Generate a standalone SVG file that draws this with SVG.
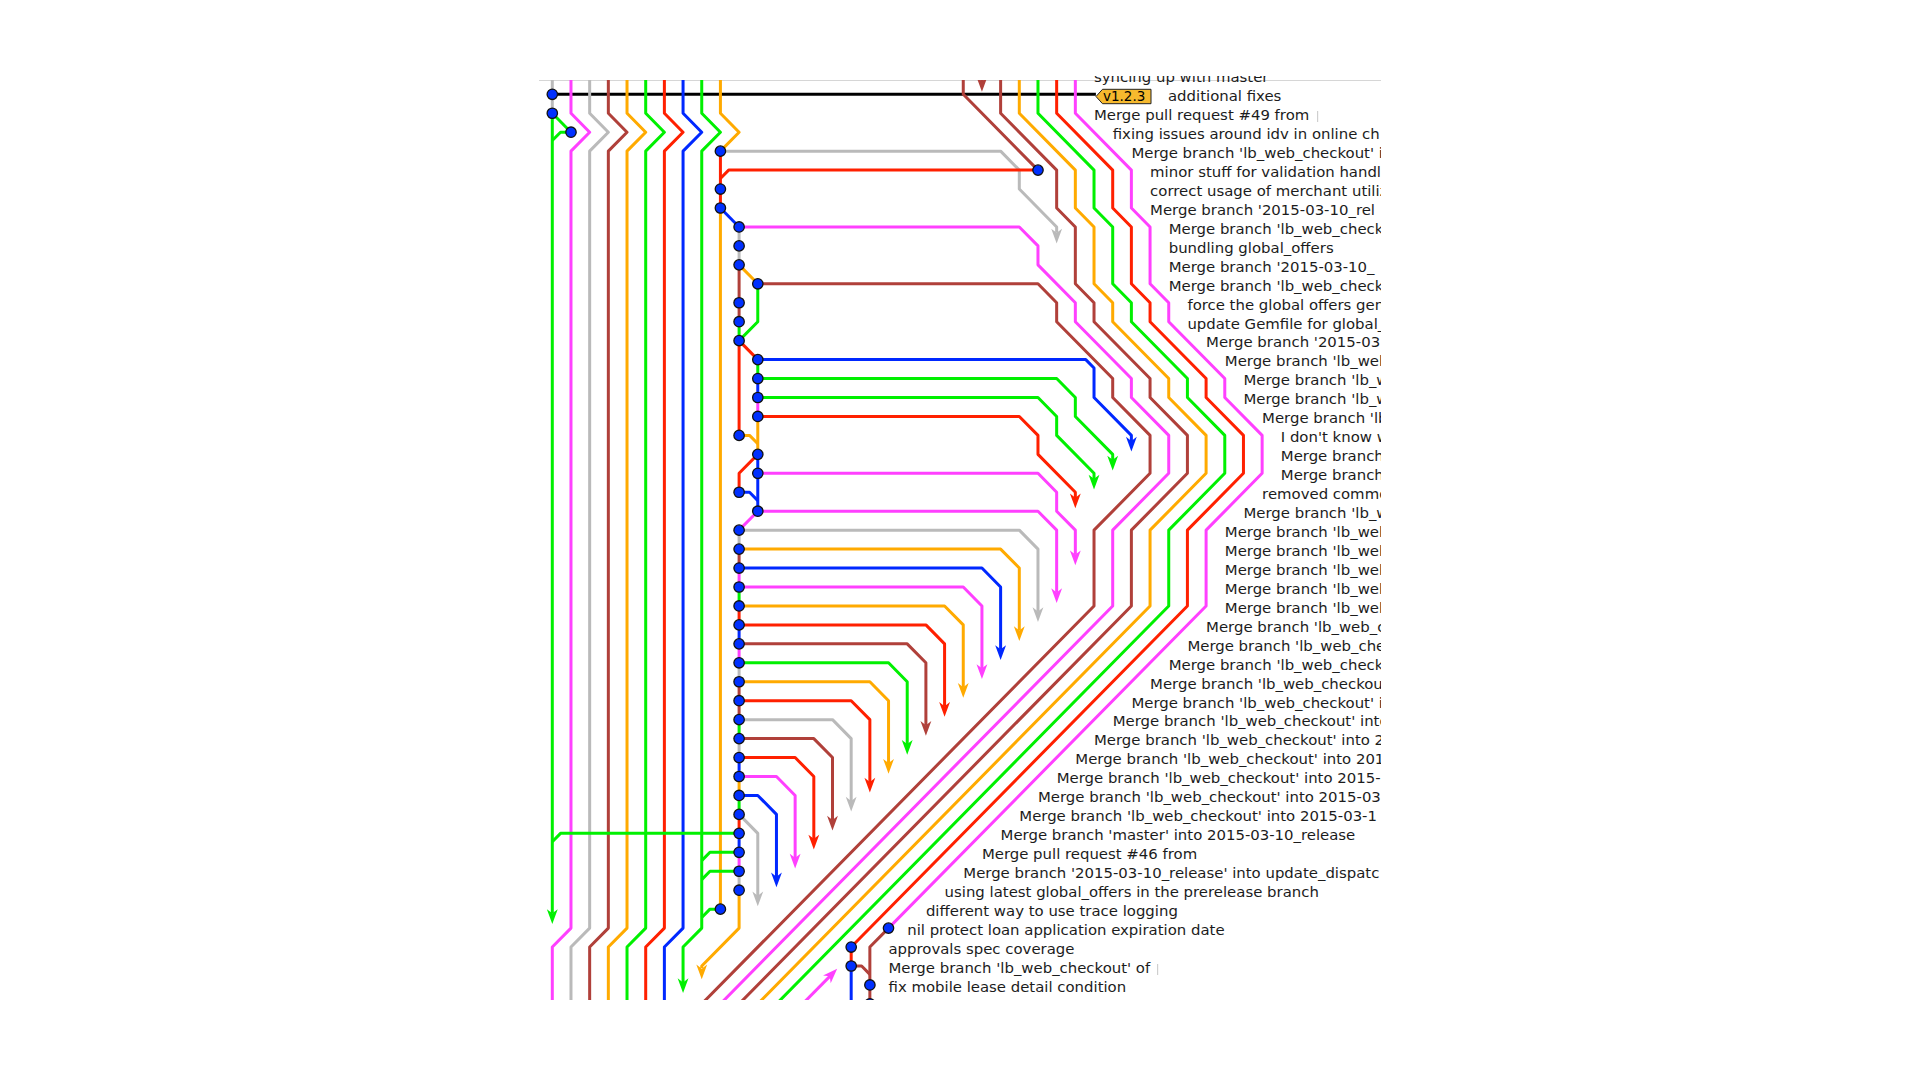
<svg xmlns="http://www.w3.org/2000/svg" xmlns:xlink="http://www.w3.org/1999/xlink" width="1920" height="1080" viewBox="0 0 1920 1080">
<style>
.ln{fill:none;stroke-width:3;vector-effect:non-scaling-stroke;stroke-linejoin:round}
.gn{stroke:#00f000}.rd{stroke:#ff2000}.bl{stroke:#0028ff}.mg{stroke:#ff40ff}.gy{stroke:#bababa}.br{stroke:#b0403a}.or{stroke:#ffaa00}.bk{stroke:#000}
.agn{fill:#00f000}.ard{fill:#ff2000}.abl{fill:#0028ff}.amg{fill:#ff40ff}.agy{fill:#bababa}.abr{fill:#b0403a}.aor{fill:#ffaa00}
.dot{fill:#0030ff;stroke:#111;stroke-width:1.3}
.t{font-family:"DejaVu Sans",sans-serif;font-size:14.9px;fill:#1c1c1c}
</style>
<defs>
<clipPath id="cg"><rect x="539" y="80" width="842" height="920"/></clipPath>
<clipPath id="ct"><rect x="539" y="76" width="842" height="924"/></clipPath>
<path id="ah" d="M0,0L-0.29,-0.78L0,-0.56L0.29,-0.78Z"/>
</defs>
<rect width="1920" height="1080" fill="#fff"/>
<line x1="539" y1="80.5" x2="1381" y2="80.5" stroke="#d6d6d6" stroke-width="1"/>
<g id="connectors" clip-path="url(#cg)">
<g transform="matrix(18.68 0 0 18.95 552.3 94.3)">
<path class="ln bk" d="M0,0H29.1"/>
<path class="ln gy" d="M0,-1.5V1"/>
<path class="ln gn" d="M0,1V43.2"/>
<path class="ln gn" d="M0,1L1,2"/>
<path class="ln gn" d="M1,2H0.44L0,2.44"/>
<path class="ln mg" d="M1,-1.5V1L2,2L1,3V44L0,45V49.5"/>
<path class="ln gy" d="M2,-1.5V1L3,2L2,3V44L1,45V49.5"/>
<path class="ln br" d="M3,-1.5V1L4,2L3,3V44L2,45V49.5"/>
<path class="ln or" d="M4,-1.5V1L5,2L4,3V44L3,45V49.5"/>
<path class="ln gn" d="M5,-1.5V1L6,2L5,3V44L4,45V49.5"/>
<path class="ln rd" d="M6,-1.5V1L7,2L6,3V44L5,45V49.5"/>
<path class="ln bl" d="M7,-1.5V1L8,2L7,3V44L6,45V49.5"/>
<path class="ln gn" d="M8,-1.5V1L9,2L8,3V44L7,45V46.9"/>
<path class="ln or" d="M9,-1.5V1L10,2L9,3"/>
<path class="ln gy" d="M9,3H24L25,4V5L27,7V7.3"/>
<path class="ln rd" d="M9,3V6"/>
<path class="ln rd" d="M26,4H9.44L9,4.44"/>
<path class="ln br" d="M22,-1.5V0L26,4"/>
<path class="ln br" d="M23,-1.5V-0.6"/>
<path class="ln bl" d="M9,6L10,7"/>
<path class="ln or" d="M9,6V43"/>
<path class="ln gy" d="M10,7V9"/>
<path class="ln or" d="M10,9L11,10"/>
<path class="ln br" d="M10,9V12"/>
<path class="ln gn" d="M11,10V12L10,13"/>
<path class="ln gn" d="M10,12V13"/>
<path class="ln rd" d="M10,13L11,14"/>
<path class="ln rd" d="M10,13V18"/>
<path class="ln gn" d="M11,14V15"/>
<path class="ln bl" d="M11,15V16"/>
<path class="ln mg" d="M11,16V17"/>
<path class="ln or" d="M11,17V19"/>
<path class="ln or" d="M10,18H10.56L11,18.44"/>
<path class="ln bl" d="M11,19V22"/>
<path class="ln rd" d="M11,19L10,20V21"/>
<path class="ln bl" d="M10,21H10.56L11,21.44"/>
<path class="ln mg" d="M11,22L10,23"/>
<path class="ln gy" d="M10,23V24"/>
<path class="ln br" d="M10,24V25"/>
<path class="ln mg" d="M10,25V26"/>
<path class="ln gn" d="M10,26V27"/>
<path class="ln rd" d="M10,27V28"/>
<path class="ln bl" d="M10,28V29"/>
<path class="ln mg" d="M10,29V30"/>
<path class="ln gy" d="M10,30V31"/>
<path class="ln br" d="M10,31V33"/>
<path class="ln gn" d="M10,33V34"/>
<path class="ln gy" d="M10,34V35"/>
<path class="ln bl" d="M10,35V36"/>
<path class="ln or" d="M10,36V37"/>
<path class="ln gn" d="M10,37V38"/>
<path class="ln rd" d="M10,38V39"/>
<path class="ln bl" d="M10,39V40"/>
<path class="ln mg" d="M10,40V41"/>
<path class="ln gy" d="M10,41V42"/>
<path class="ln or" d="M10,42V44L8,46V46.1"/>
<path class="ln gn" d="M10,39H0.44L0,39.44"/>
<path class="ln gn" d="M10,40H8.44L8,40.44"/>
<path class="ln gn" d="M10,41H8.44L8,41.44"/>
<path class="ln gn" d="M9,43H8.44L8,43.44"/>
<path class="ln mg" d="M10,7H25L26,8V9L28,11V12L31,15V16L33,18V20L30,23V27L8,49"/>
<path class="ln br" d="M11,10H26L27,11V12L30,15V16L32,18V20L29,23V27L7,49"/>
<path class="ln bl" d="M11,14H28.56L29,14.44V16L31,18V18.3"/>
<path class="ln gn" d="M11,15H27L28,16V17L30,19V19.3"/>
<path class="ln gn" d="M11,16H26L27,17V18L29,20V20.3"/>
<path class="ln rd" d="M11,17H25L26,18V19L28,21V21.3"/>
<path class="ln mg" d="M11,20H26L27,21V22L28,23V24.3"/>
<path class="ln mg" d="M11,22H26L27,23V26.3"/>
<path class="ln gy" d="M10,23H25L26,24V27.3"/>
<path class="ln or" d="M10,24H24L25,25V28.3"/>
<path class="ln bl" d="M10,25H23L24,26V29.3"/>
<path class="ln mg" d="M10,26H22L23,27V30.3"/>
<path class="ln or" d="M10,27H21L22,28V31.3"/>
<path class="ln rd" d="M10,28H20L21,29V32.3"/>
<path class="ln br" d="M10,29H19L20,30V33.3"/>
<path class="ln gn" d="M10,30H18L19,31V34.3"/>
<path class="ln or" d="M10,31H17L18,32V35.3"/>
<path class="ln rd" d="M10,32H16L17,33V36.3"/>
<path class="ln gy" d="M10,33H15L16,34V37.3"/>
<path class="ln br" d="M10,34H14L15,35V38.3"/>
<path class="ln rd" d="M10,35H13L14,36V39.3"/>
<path class="ln mg" d="M10,36H12L13,37V40.3"/>
<path class="ln bl" d="M10,37H11L12,38V41.3"/>
<path class="ln gy" d="M10,38L11,39V42.3"/>
<path class="ln mg" d="M28,-1.5V1L31,4V6L32,7V10L33,11V12L36,15V16L38,18V20L35,23V27L18,44"/>
<path class="ln rd" d="M27,-1.5V1L30,4V6L31,7V10L32,11V12L35,15V16L37,18V20L34,23V27L16,45V46"/>
<path class="ln gn" d="M26,-1.5V1L29,4V6L30,7V10L31,11V12L34,15V16L36,18V20L33,23V27L11,49"/>
<path class="ln or" d="M25,-1.5V1L28,4V6L29,7V10L30,11V12L33,15V16L35,18V20L32,23V27L10,49"/>
<path class="ln br" d="M24,-1.5V1L27,4V6L28,7V10L29,11V12L32,15V16L34,18V20L31,23V27L9,49"/>
<path class="ln br" d="M18,44L17,45V48.5"/>
<path class="ln bl" d="M16,46V49.5"/>
<path class="ln br" d="M16,46H16.56L17,46.44"/>
<path class="ln mg" d="M15,46.4L12,49.4"/>
<use xlink:href="#ah" class="agn" transform="translate(0,43.78)"/>
<use xlink:href="#ah" class="agn" transform="translate(7,47.43)"/>
<use xlink:href="#ah" class="aor" transform="translate(8,46.7)"/>
<use xlink:href="#ah" class="abr" transform="translate(23,-0.13)"/>
<use xlink:href="#ah" class="agy" transform="translate(27,7.87)"/>
<use xlink:href="#ah" class="abl" transform="translate(31,18.85)"/>
<use xlink:href="#ah" class="agn" transform="translate(30,19.85)"/>
<use xlink:href="#ah" class="agn" transform="translate(29,20.85)"/>
<use xlink:href="#ah" class="ard" transform="translate(28,21.85)"/>
<use xlink:href="#ah" class="amg" transform="translate(28,24.85)"/>
<use xlink:href="#ah" class="amg" transform="translate(27,26.85)"/>
<use xlink:href="#ah" class="agy" transform="translate(26,27.85)"/>
<use xlink:href="#ah" class="aor" transform="translate(25,28.85)"/>
<use xlink:href="#ah" class="abl" transform="translate(24,29.85)"/>
<use xlink:href="#ah" class="amg" transform="translate(23,30.85)"/>
<use xlink:href="#ah" class="aor" transform="translate(22,31.85)"/>
<use xlink:href="#ah" class="ard" transform="translate(21,32.85)"/>
<use xlink:href="#ah" class="abr" transform="translate(20,33.85)"/>
<use xlink:href="#ah" class="agn" transform="translate(19,34.85)"/>
<use xlink:href="#ah" class="aor" transform="translate(18,35.85)"/>
<use xlink:href="#ah" class="ard" transform="translate(17,36.85)"/>
<use xlink:href="#ah" class="agy" transform="translate(16,37.85)"/>
<use xlink:href="#ah" class="abr" transform="translate(15,38.85)"/>
<use xlink:href="#ah" class="ard" transform="translate(14,39.85)"/>
<use xlink:href="#ah" class="amg" transform="translate(13,40.85)"/>
<use xlink:href="#ah" class="abl" transform="translate(12,41.85)"/>
<use xlink:href="#ah" class="agy" transform="translate(11,42.85)"/>
<use xlink:href="#ah" class="amg" transform="translate(15.25,46.15) rotate(-135)"/>
</g>
</g>
<g id="nodes" clip-path="url(#ct)">
<g id="c-m1"><text class="t" x="1094" y="82.2">syncing up with master</text></g>
<g id="c0"><circle class="dot" cx="552.3" cy="94.3" r="5.2"/><path d="M1096,96.5L1102.5,89.3H1151V103.7H1102.5Z" fill="#f6b92e" stroke="#222" stroke-width="1"/><text x="1103" y="101.4" font-family="DejaVu Sans, sans-serif" font-size="13.5" fill="#000">v1.2.3</text><text class="t" x="1168" y="101.1">additional fixes</text></g>
<g id="c1"><circle class="dot" cx="552.3" cy="113.25" r="5.2"/><text class="t" x="1094" y="120.05">Merge pull request #49 from</text><rect x="1317" y="111" width="1.2" height="11" fill="#cfcfcf"/></g>
<g id="c2"><circle class="dot" cx="571" cy="132.2" r="5.2"/><text class="t" x="1112.7" y="139">fixing issues around idv in online ch</text></g>
<g id="c3"><circle class="dot" cx="720.4" cy="151.15" r="5.2"/><text class="t" x="1131.4" y="157.95">Merge branch 'lb_web_checkout' i</text></g>
<g id="c4"><circle class="dot" cx="1038" cy="170.1" r="5.2"/><text class="t" x="1150.1" y="176.9">minor stuff for validation handl</text></g>
<g id="c5"><circle class="dot" cx="720.4" cy="189.05" r="5.2"/><text class="t" x="1150.1" y="195.85">correct usage of merchant utiliz</text></g>
<g id="c6"><circle class="dot" cx="720.4" cy="208" r="5.2"/><text class="t" x="1150.1" y="214.8">Merge branch '2015-03-10_rel</text></g>
<g id="c7"><circle class="dot" cx="739.1" cy="226.95" r="5.2"/><text class="t" x="1168.7" y="233.75">Merge branch 'lb_web_check</text></g>
<g id="c8"><circle class="dot" cx="739.1" cy="245.9" r="5.2"/><text class="t" x="1168.7" y="252.7">bundling global_offers</text></g>
<g id="c9"><circle class="dot" cx="739.1" cy="264.85" r="5.2"/><text class="t" x="1168.7" y="271.65">Merge branch '2015-03-10_</text></g>
<g id="c10"><circle class="dot" cx="757.8" cy="283.8" r="5.2"/><text class="t" x="1168.7" y="290.6">Merge branch 'lb_web_check</text></g>
<g id="c11"><circle class="dot" cx="739.1" cy="302.75" r="5.2"/><text class="t" x="1187.4" y="309.55">force the global offers gen</text></g>
<g id="c12"><circle class="dot" cx="739.1" cy="321.7" r="5.2"/><text class="t" x="1187.4" y="328.5">update Gemfile for global_</text></g>
<g id="c13"><circle class="dot" cx="739.1" cy="340.65" r="5.2"/><text class="t" x="1206.1" y="347.45">Merge branch '2015-03</text></g>
<g id="c14"><circle class="dot" cx="757.8" cy="359.6" r="5.2"/><text class="t" x="1224.8" y="366.4">Merge branch 'lb_web</text></g>
<g id="c15"><circle class="dot" cx="757.8" cy="378.55" r="5.2"/><text class="t" x="1243.5" y="385.35">Merge branch 'lb_w</text></g>
<g id="c16"><circle class="dot" cx="757.8" cy="397.5" r="5.2"/><text class="t" x="1243.5" y="404.3">Merge branch 'lb_w</text></g>
<g id="c17"><circle class="dot" cx="757.8" cy="416.45" r="5.2"/><text class="t" x="1262.1" y="423.25">Merge branch 'lb</text></g>
<g id="c18"><circle class="dot" cx="739.1" cy="435.4" r="5.2"/><text class="t" x="1280.8" y="442.2">I don't know w</text></g>
<g id="c19"><circle class="dot" cx="757.8" cy="454.35" r="5.2"/><text class="t" x="1280.8" y="461.15">Merge branch</text></g>
<g id="c20"><circle class="dot" cx="757.8" cy="473.3" r="5.2"/><text class="t" x="1280.8" y="480.1">Merge branch</text></g>
<g id="c21"><circle class="dot" cx="739.1" cy="492.25" r="5.2"/><text class="t" x="1262.1" y="499.05">removed commo</text></g>
<g id="c22"><circle class="dot" cx="757.8" cy="511.2" r="5.2"/><text class="t" x="1243.5" y="518">Merge branch 'lb_w</text></g>
<g id="c23"><circle class="dot" cx="739.1" cy="530.15" r="5.2"/><text class="t" x="1224.8" y="536.95">Merge branch 'lb_web</text></g>
<g id="c24"><circle class="dot" cx="739.1" cy="549.1" r="5.2"/><text class="t" x="1224.8" y="555.9">Merge branch 'lb_web</text></g>
<g id="c25"><circle class="dot" cx="739.1" cy="568.05" r="5.2"/><text class="t" x="1224.8" y="574.85">Merge branch 'lb_web</text></g>
<g id="c26"><circle class="dot" cx="739.1" cy="587" r="5.2"/><text class="t" x="1224.8" y="593.8">Merge branch 'lb_web</text></g>
<g id="c27"><circle class="dot" cx="739.1" cy="605.95" r="5.2"/><text class="t" x="1224.8" y="612.75">Merge branch 'lb_web</text></g>
<g id="c28"><circle class="dot" cx="739.1" cy="624.9" r="5.2"/><text class="t" x="1206.1" y="631.7">Merge branch 'lb_web_c</text></g>
<g id="c29"><circle class="dot" cx="739.1" cy="643.85" r="5.2"/><text class="t" x="1187.4" y="650.65">Merge branch 'lb_web_che</text></g>
<g id="c30"><circle class="dot" cx="739.1" cy="662.8" r="5.2"/><text class="t" x="1168.7" y="669.6">Merge branch 'lb_web_check</text></g>
<g id="c31"><circle class="dot" cx="739.1" cy="681.75" r="5.2"/><text class="t" x="1150.1" y="688.55">Merge branch 'lb_web_checkou</text></g>
<g id="c32"><circle class="dot" cx="739.1" cy="700.7" r="5.2"/><text class="t" x="1131.4" y="707.5">Merge branch 'lb_web_checkout' i</text></g>
<g id="c33"><circle class="dot" cx="739.1" cy="719.65" r="5.2"/><text class="t" x="1112.7" y="726.45">Merge branch 'lb_web_checkout' into</text></g>
<g id="c34"><circle class="dot" cx="739.1" cy="738.6" r="5.2"/><text class="t" x="1094" y="745.4">Merge branch 'lb_web_checkout' into 2</text></g>
<g id="c35"><circle class="dot" cx="739.1" cy="757.55" r="5.2"/><text class="t" x="1075.3" y="764.35">Merge branch 'lb_web_checkout' into 201</text></g>
<g id="c36"><circle class="dot" cx="739.1" cy="776.5" r="5.2"/><text class="t" x="1056.7" y="783.3">Merge branch 'lb_web_checkout' into 2015-</text></g>
<g id="c37"><circle class="dot" cx="739.1" cy="795.45" r="5.2"/><text class="t" x="1038" y="802.25">Merge branch 'lb_web_checkout' into 2015-03</text></g>
<g id="c38"><circle class="dot" cx="739.1" cy="814.4" r="5.2"/><text class="t" x="1019.3" y="821.2">Merge branch 'lb_web_checkout' into 2015-03-1</text></g>
<g id="c39"><circle class="dot" cx="739.1" cy="833.35" r="5.2"/><text class="t" x="1000.6" y="840.15">Merge branch 'master' into 2015-03-10_release</text></g>
<g id="c40"><circle class="dot" cx="739.1" cy="852.3" r="5.2"/><text class="t" x="981.9" y="859.1">Merge pull request #46 from</text></g>
<g id="c41"><circle class="dot" cx="739.1" cy="871.25" r="5.2"/><text class="t" x="963.3" y="878.05">Merge branch '2015-03-10_release' into update_dispatc</text></g>
<g id="c42"><circle class="dot" cx="739.1" cy="890.2" r="5.2"/><text class="t" x="944.6" y="897">using latest global_offers in the prerelease branch</text></g>
<g id="c43"><circle class="dot" cx="720.4" cy="909.15" r="5.2"/><text class="t" x="925.9" y="915.95">different way to use trace logging</text></g>
<g id="c44"><circle class="dot" cx="888.5" cy="928.1" r="5.2"/><text class="t" x="907.2" y="934.9">nil protect loan application expiration date</text></g>
<g id="c45"><circle class="dot" cx="851.2" cy="947.05" r="5.2"/><text class="t" x="888.5" y="953.85">approvals spec coverage</text></g>
<g id="c46"><circle class="dot" cx="851.2" cy="966" r="5.2"/><text class="t" x="888.5" y="972.8">Merge branch 'lb_web_checkout' of</text><rect x="1157" y="964" width="1.2" height="11" fill="#cfcfcf"/></g>
<g id="c47"><circle class="dot" cx="869.9" cy="984.95" r="5.2"/><text class="t" x="888.5" y="991.75">fix mobile lease detail condition</text></g>
<g id="c48"><circle class="dot" cx="869.9" cy="1003.9" r="5.2"/></g>
</g>
</svg>
